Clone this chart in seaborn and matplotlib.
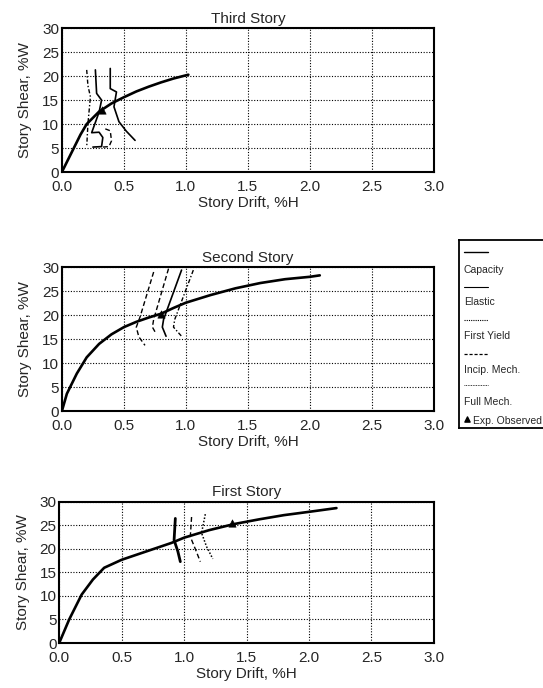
import matplotlib
matplotlib.use("Agg")
import matplotlib.pyplot as plt
import seaborn as sns

# Third story
third_capacity_x = [0, 0.05, 0.1, 0.15, 0.2, 0.3, 0.4, 0.5, 0.6, 0.7, 0.8, 0.9, 1.02]
third_capacity_y = [0, 2.6, 5.2, 7.8, 10.0, 12.6, 14.3, 15.6, 16.8, 17.8, 18.7, 19.5, 20.3]
third_yield_x = [0.20, 0.21, 0.23, 0.21, 0.20]
third_yield_y = [21.3, 18.0, 15.7, 10.1, 5.2]
third_elastic_x = [0.27, 0.28, 0.32, 0.30, 0.24, 0.30, 0.33, 0.32, 0.25]
third_elastic_y = [21.3, 16.4, 15.0, 12.5, 8.2, 8.3, 7.2, 5.3, 5.2]
third_full_x = [0.39, 0.39, 0.44, 0.42, 0.46, 0.52, 0.59]
third_full_y = [21.6, 17.4, 16.7, 13.6, 10.5, 8.5, 6.6]
third_incip_x = [0.35, 0.39, 0.40, 0.38, 0.33]
third_incip_y = [9.0, 8.6, 6.5, 5.3, 5.2]
third_observed = (0.32, 13.0)

# Second story
second_capacity_x = [0, 0.04, 0.12, 0.2, 0.3, 0.4, 0.5, 0.6, 0.7, 0.8, 0.9, 1.0,
                     1.2, 1.4, 1.6, 1.8, 2.0, 2.08]
second_capacity_y = [0, 3.6, 7.8, 11.2, 14.0, 16.0, 17.5, 18.6, 19.5, 20.3, 21.5, 22.6,
                     24.2, 25.6, 26.7, 27.5, 28.0, 28.3]
second_incip_x = [0.74, 0.63, 0.60, 0.62, 0.67]
second_incip_y = [29.0, 19.6, 17.5, 15.5, 13.7]
second_yield_x = [0.86, 0.74, 0.73, 0.76]
second_yield_y = [29.7, 19.1, 17.5, 16.1]
second_elastic_x = [0.965, 0.82, 0.81, 0.84]
second_elastic_y = [29.4, 19.1, 17.5, 15.6]
second_full_x = [1.06, 0.91, 0.90, 0.965]
second_full_y = [29.4, 19.1, 17.5, 15.6]
second_observed = (0.80, 20.3)

# First story
first_capacity_x = [0, 0.08, 0.18, 0.27, 0.36, 0.5, 0.7, 0.9, 1.0, 1.2, 1.4, 1.6, 1.8, 2.0, 2.22]
first_capacity_y = [0, 5.0, 10.3, 13.5, 16.0, 17.7, 19.5, 21.3, 22.4, 24.0, 25.3, 26.3, 27.2, 27.9, 28.7]
first_elastic_x = [0.93, 0.92, 0.95, 0.97]
first_elastic_y = [26.5, 21.9, 19.5, 17.3]
first_incip_x = [1.06, 1.05, 1.09, 1.13]
first_incip_y = [26.8, 22.6, 20.0, 17.3]
first_full_x = [1.17, 1.14, 1.18, 1.23]
first_full_y = [27.4, 23.4, 20.5, 17.9]
first_observed = (1.38, 25.5)

x_ticks = [0.0, 0.5, 1.0, 1.5, 2.0, 2.5, 3.0]
y_ticks = [0, 5, 10, 15, 20, 25, 30]
legend_labels = ["Capacity", "Elastic", "First Yield", "Incip. Mech.", "Full Mech.", "Exp. Observed"]

styles = {
    "elastic": dict(linestyle="-", linewidth=1.2),
    "thick": dict(linestyle="-", linewidth=2.0),
    "yield": dict(linestyle=(0, (3, 1.5, 1, 1.5)), linewidth=1.0),
    "incip": dict(linestyle=(0, (3.5, 2)), linewidth=1.0),
    "full": dict(linestyle=(0, (1, 1.2)), linewidth=1.1),
}

sns.set_style("white")
plt.rcParams["font.family"] = ["Liberation Sans", "DejaVu Sans"]

fig = plt.figure(figsize=(5.43, 6.88), dpi=100)


def draw_story(rect, title, cap_x, cap_y, lines, observed):
    ax = fig.add_axes(rect)
    sns.lineplot(x=cap_x, y=cap_y, sort=False, estimator=None, color="black",
                 linewidth=1.9, ax=ax)
    for kind, (lx, ly) in lines:
        sns.lineplot(x=lx, y=ly, sort=False, estimator=None, color="black",
                     ax=ax, **styles[kind])
    sns.scatterplot(x=[observed[0]], y=[observed[1]], marker="^", s=28,
                    color="black", edgecolor="black", ax=ax, zorder=5)
    ax.set_xlim(0, 3)
    ax.set_ylim(0, 30)
    ax.set_xticks(x_ticks)
    ax.set_xticklabels([f"{t:.1f}" for t in x_ticks])
    ax.set_yticks(y_ticks)
    ax.grid(True, color="black", linestyle=(0, (1, 1.5)), linewidth=0.8)
    ax.tick_params(length=0, labelsize=11)
    ax.tick_params(axis="x", pad=6)
    ax.tick_params(axis="y", pad=2)
    for s in ax.spines.values():
        s.set_color("black")
        s.set_linewidth(1.5)
    ax.set_title(title, fontsize=11, pad=4)
    ax.set_xlabel("Story Drift, %H", fontsize=11, labelpad=1)
    ax.set_ylabel("Story Shear, %W", fontsize=11, labelpad=7)
    return ax


draw_story([0.114, 0.75, 0.685, 0.209], "Third Story",
           third_capacity_x, third_capacity_y,
           [("yield", (third_yield_x, third_yield_y)),
            ("elastic", (third_elastic_x, third_elastic_y)),
            ("elastic", (third_full_x, third_full_y)),
            ("incip", (third_incip_x, third_incip_y))],
           third_observed)

draw_story([0.114, 0.4026, 0.685, 0.209], "Second Story",
           second_capacity_x, second_capacity_y,
           [("incip", (second_incip_x, second_incip_y)),
            ("incip", (second_yield_x, second_yield_y)),
            ("elastic", (second_elastic_x, second_elastic_y)),
            ("yield", (second_full_x, second_full_y))],
           second_observed)

draw_story([0.109, 0.0654, 0.69, 0.205], "First Story",
           first_capacity_x, first_capacity_y,
           [("thick", (first_elastic_x, first_elastic_y)),
            ("incip", (first_incip_x, first_incip_y)),
            ("full", (first_full_x, first_full_y))],
           first_observed)

# legend box, drawn in pixel units of the figure, handle above label
lax = fig.add_axes([459 / 543, 1 - 428 / 688, 0.3, (428 - 240) / 688])
lax.set_xlim(459, 459 + 0.3 * 543)
lax.set_ylim(428, 240)
lax.set_xticks([])
lax.set_yticks([])
for s in lax.spines.values():
    s.set_color("black")
    s.set_linewidth(1.3)

handle_styles = [dict(linestyle="-", linewidth=1.0),
                 dict(linestyle="-", linewidth=0.8),
                 dict(linestyle=(0, (1, 1)), linewidth=0.8),
                 dict(linestyle=(0, (2.5, 1.5)), linewidth=0.9),
                 dict(linestyle=(0, (1, 1)), linewidth=0.6)]
line_rows = [252, 287, 320, 354, 385]
text_rows = [270, 302, 336, 370, 402]
for hs, ly, ty, lab in zip(handle_styles, line_rows, text_rows, legend_labels[:5]):
    lax.plot([464, 488], [ly, ly], color="black", **hs)
    lax.text(464, ty, lab, fontsize=7.5, va="center", ha="left")
lax.scatter([467], [419], marker="^", s=14, color="black")
lax.text(473, 421, legend_labels[5], fontsize=7.5, va="center", ha="left")

fig.savefig("out.png", dpi=100)
